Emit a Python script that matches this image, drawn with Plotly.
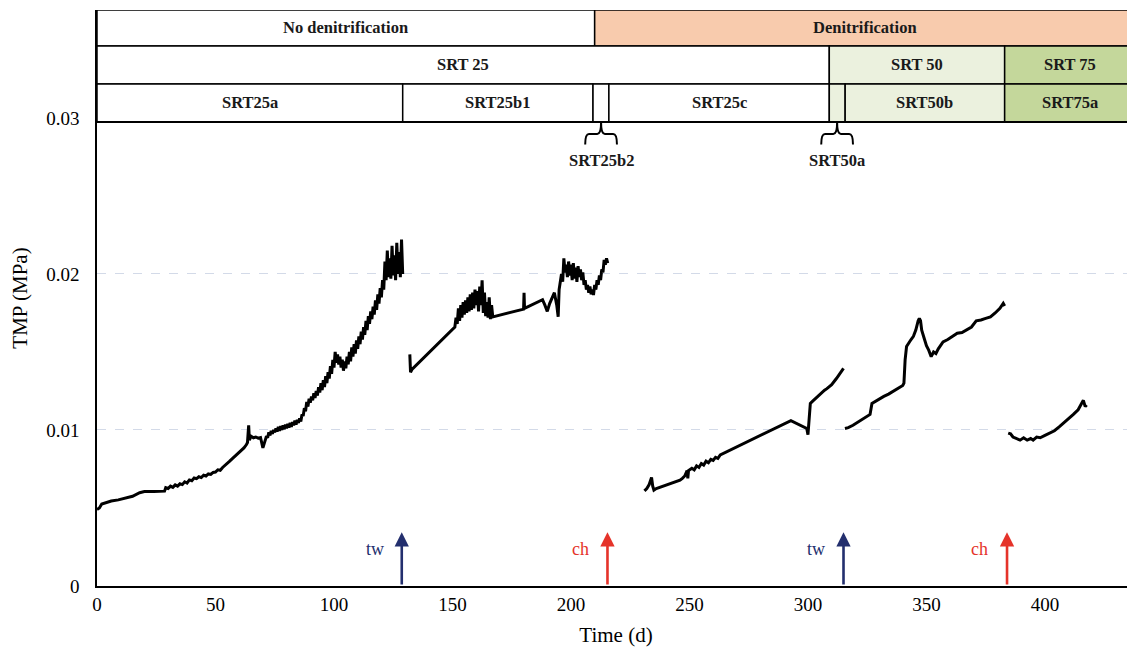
import plotly.graph_objects as go

# ---------------- data ----------------
t1 = [0, 1, 2, 4, 6, 9, 12, 15, 18, 20, 24, 28.5, 29, 30, 31, 32, 33, 34, 35, 36, 37, 38, 39, 40,
      41, 42, 43, 44, 45, 46, 47, 48, 49, 50, 51, 52, 53, 54, 55, 56, 57, 58, 59, 60, 61, 62, 63,
      63.5, 64, 64.3, 65, 66, 67, 68, 69, 70, 71, 71.5, 72, 72.5, 73, 73.5, 74, 74.5, 75, 75.5, 76,
      76.5, 77, 77.5, 78, 78.5, 79, 79.5, 80, 80.5, 81, 81.5, 82, 82.5, 83, 83.5, 84, 84.5, 85, 85.5,
      86, 86.5, 87, 87.5, 88, 88.5, 89, 89.5, 90, 90.5, 91, 91.5, 92, 92.5, 93, 93.5, 94, 94.5, 95,
      95.5, 96, 96.5, 97, 97.5, 98, 98.5, 99, 99.5, 100, 100.5, 101, 101.5, 102, 102.5, 103, 103.5,
      104, 104.5, 105, 105.5, 106, 106.5, 107, 107.5, 108, 108.5, 109, 109.5, 110, 110.5, 111, 111.5,
      112, 112.5, 113, 113.5, 114, 114.5, 115, 115.5, 116, 116.5, 117, 117.5, 118, 118.5, 119, 119.5,
      120, 120.5, 121, 121.5, 122, 122.5, 123, 123.5, 124, 124.5, 125, 125.5, 126, 126.5, 127, 127.5,
      128, 128.5, 129]
p1 = [0.00490, 0.00500, 0.00525, 0.00535, 0.00545, 0.00552, 0.00562, 0.00575, 0.00598, 0.00605,
      0.00606, 0.00608, 0.00630, 0.00625, 0.00640, 0.00632, 0.00648, 0.00640, 0.00655, 0.00650,
      0.00668, 0.00660, 0.00680, 0.00675, 0.00692, 0.00688, 0.00700, 0.00695, 0.00710, 0.00705,
      0.00718, 0.00715, 0.00728, 0.00730, 0.00745, 0.00742, 0.00760, 0.00772, 0.00785, 0.00800,
      0.00815, 0.00828, 0.00845, 0.00855, 0.00872, 0.00885, 0.00905, 0.00920, 0.01030, 0.00935,
      0.00960, 0.00950, 0.00955, 0.00948, 0.00952, 0.00885, 0.00935, 0.00960, 0.00950, 0.00985,
      0.00965, 0.00995, 0.00975, 0.01000, 0.00985, 0.01010, 0.00990, 0.01020, 0.00995, 0.01025,
      0.01000, 0.01030, 0.01005, 0.01035, 0.01010, 0.01040, 0.01015, 0.01045, 0.01020, 0.01050,
      0.01030, 0.01060, 0.01035, 0.01065, 0.01045, 0.01075, 0.01055, 0.01100, 0.01090, 0.01140,
      0.01120, 0.01180, 0.01150, 0.01200, 0.01175, 0.01215, 0.01190, 0.01235, 0.01205, 0.01250,
      0.01220, 0.01275, 0.01240, 0.01300, 0.01255, 0.01320, 0.01275, 0.01345, 0.01300, 0.01370,
      0.01330, 0.01410, 0.01360, 0.01450, 0.01400, 0.01500, 0.01430, 0.01485, 0.01420, 0.01470,
      0.01400, 0.01450, 0.01380, 0.01440, 0.01395, 0.01470, 0.01420, 0.01500, 0.01440, 0.01530,
      0.01470, 0.01550, 0.01490, 0.01575, 0.01520, 0.01600, 0.01550, 0.01630, 0.01580, 0.01660,
      0.01610, 0.01700, 0.01640, 0.01730, 0.01680, 0.01760, 0.01710, 0.01790, 0.01740, 0.01830,
      0.01770, 0.01870, 0.01810, 0.01910, 0.01850, 0.01960, 0.01900, 0.02080, 0.01960, 0.02150,
      0.01980, 0.02100, 0.01970, 0.02180, 0.01990, 0.02120, 0.01960, 0.02200, 0.02000, 0.02140,
      0.01980, 0.02220, 0.02000]

t2 = [132, 132.3, 133, 151, 151.5, 152, 152.5, 153, 153.5, 154, 154.5, 155, 155.5, 156, 156.5, 157,
      157.5, 158, 158.5, 159, 159.5, 160, 160.5, 161, 161.5, 162, 162.5, 163, 163.5, 164, 164.5, 165,
      165.5, 166, 166.5, 167, 180, 180.2, 180.4, 188, 189, 190, 191, 192, 193, 194, 194.6, 195, 195.5,
      196, 196.5, 197, 197.5, 198, 198.5, 199, 199.5, 200, 200.5, 201, 201.5, 202, 202.5, 203, 203.5,
      204, 204.5, 205, 205.5, 206, 206.5, 207, 207.5, 208, 208.5, 209, 209.5, 210, 210.5, 211, 211.5,
      212, 212.5, 213, 213.5, 214, 214.5, 215, 215.5]
p2 = [0.01485, 0.01370, 0.01390, 0.01660, 0.01720, 0.01680, 0.01780, 0.01700, 0.01800, 0.01720,
      0.01820, 0.01740, 0.01830, 0.01750, 0.01850, 0.01760, 0.01870, 0.01770, 0.01880, 0.01780,
      0.01900, 0.01800, 0.01890, 0.01760, 0.01920, 0.01800, 0.01960, 0.01750, 0.01880, 0.01730,
      0.01820, 0.01720, 0.01850, 0.01710, 0.01800, 0.01725, 0.01775, 0.01880, 0.01780, 0.01835,
      0.01800, 0.01760, 0.01810, 0.01850, 0.01880, 0.01800, 0.01726, 0.01900, 0.01960, 0.02000,
      0.01950, 0.02100, 0.02010, 0.02060, 0.01980, 0.02080, 0.01990, 0.02060, 0.01960, 0.02070,
      0.01970, 0.02040, 0.01950, 0.02050, 0.01980, 0.02030, 0.01960, 0.02010, 0.01930, 0.01960,
      0.01900, 0.01930, 0.01880, 0.01920, 0.01870, 0.01900, 0.01865, 0.01930, 0.01900, 0.01960,
      0.01930, 0.01990, 0.01960, 0.02030, 0.02010, 0.02090, 0.02060, 0.02100, 0.02070]

t3 = [231, 232, 233, 234, 234.5, 235, 236, 238, 240, 242, 244, 246, 247, 248, 249, 249.3, 249.6,
      251, 252, 253, 254, 255, 256, 257, 258, 259, 260, 261, 262, 263, 292.8, 299.5, 300, 300.5,
      301, 302, 303, 304, 305, 306, 307, 308, 310, 312, 314, 315]
p3 = [0.00610, 0.00625, 0.00650, 0.00695, 0.00640, 0.00615, 0.00625, 0.00635, 0.00645, 0.00655,
      0.00665, 0.00678, 0.00690, 0.00705, 0.00740, 0.00690, 0.00740, 0.00755, 0.00745, 0.00770,
      0.00760, 0.00785, 0.00775, 0.00800, 0.00790, 0.00812, 0.00805, 0.00825, 0.00818, 0.00840,
      0.01060, 0.01010, 0.00970, 0.01050, 0.01170, 0.01185, 0.01200, 0.01215, 0.01230, 0.01240,
      0.01255, 0.01265, 0.01290, 0.01330, 0.01375, 0.01395]

t4 = [315.6, 317, 319, 321, 323, 325, 326.2, 327, 328, 330, 332, 334, 336, 338, 340, 340.5, 341,
      341.6, 342.5, 343.5, 344.5, 345.5, 346.5, 347, 347.5, 348, 349, 350, 351, 352, 353, 354, 355,
      356, 357, 359, 361, 363, 365, 367, 369, 371, 373, 375, 377, 379, 381, 382.4, 383]
p4 = [0.01010, 0.01015, 0.01030, 0.01050, 0.01065, 0.01085, 0.01100, 0.01170, 0.01180, 0.01195,
      0.01215, 0.01230, 0.01250, 0.01265, 0.01285, 0.01300, 0.01450, 0.01535, 0.01560, 0.01580,
      0.01600, 0.01640, 0.01700, 0.01716, 0.01700, 0.01640, 0.01590, 0.01540, 0.01510, 0.01470,
      0.01500, 0.01490, 0.01520, 0.01540, 0.01565, 0.01580, 0.01600, 0.01620, 0.01625, 0.01645,
      0.01660, 0.01700, 0.01705, 0.01715, 0.01725, 0.01750, 0.01780, 0.01812, 0.01795]

t5 = [384.5, 385.5, 386.5, 388, 389.5, 391, 392.5, 394, 395, 396.5, 398, 400, 402, 404, 406, 408,
      410, 412, 414, 415.5, 416.2, 417, 417.6]
p5 = [0.00980, 0.00975, 0.00955, 0.00945, 0.00935, 0.00950, 0.00935, 0.00945, 0.00935, 0.00955,
      0.00950, 0.00965, 0.00980, 0.00995, 0.01020, 0.01045, 0.01070, 0.01100, 0.01130, 0.01165,
      0.01190, 0.01150, 0.01160]

segments = [(t1, p1), (t2, p2), (t3, p3), (t4, p4), (t5, p5)]

# phase bands: (start, end, label, fill)
band_top = [(0, 210, "No denitrification", "white"), (210, 438, "Denitrification", "#F8CBAD")]
band_mid = [(0, 309, "SRT 25", "white"), (309, 383, "SRT 50", "#EBF1DE"), (383, 438, "SRT 75", "#C4D79B")]
band_low = [(0, 129, "SRT25a", "white"), (129, 209.3, "SRT25b1", "white"), (209.3, 216, "", "white"),
            (216, 309, "SRT25c", "white"), (309, 315.7, "", "#EBF1DE"), (315.7, 383, "SRT50b", "#EBF1DE"),
            (383, 438, "SRT75a", "#C4D79B")]
braces = [(212.7, "SRT25b2"), (312.3, "SRT50a")]

events = [(128.6, "tw", "#232F6E"), (215.4, "ch", "#E5332A"), (315, "tw", "#232F6E"), (384, "ch", "#E5332A")]

x_ticks = [0, 50, 100, 150, 200, 250, 300, 350, 400]
y_ticks = [0, 0.01, 0.02, 0.03]
y_ticktext = ["0", "0.01", "0.02", "0.03"]

XMAX = 438
YMAX = 0.03692
FONT = "Liberation Serif, Times New Roman, serif"

fig = go.Figure()
for t, p in segments:
    fig.add_trace(go.Scatter(x=t, y=p, mode="lines", line=dict(color="black", width=3),
                             showlegend=False, hoverinfo="skip"))

shapes = []
annotations = []
rows = [(band_top, 0.03462, 0.03692), (band_mid, 0.03218, 0.03462), (band_low, 0.02974, 0.03218)]
for band, y0, y1 in rows:
    for x0, x1, label, fill in band:
        shapes.append(dict(type="rect", xref="x", yref="y", x0=x0, x1=x1, y0=y0, y1=y1,
                           fillcolor=fill, line=dict(color="black", width=1.5), layer="above"))
        if label:
            annotations.append(dict(x=(x0 + x1) / 2, y=(y0 + y1) / 2, xref="x", yref="y",
                                    text=f"<b>{label}</b>", showarrow=False,
                                    font=dict(family=FONT, size=16.5, color="#1a1a1a"),
                                    xanchor="center", yanchor="middle"))
# thicker bottom edge of the band block
shapes.append(dict(type="line", xref="x", yref="y", x0=0, x1=XMAX, y0=0.02974, y1=0.02974,
                   line=dict(color="black", width=2), layer="above"))

for xc, label in braces:
    half = 6.7
    s = 1.6
    yt, yh, ye = 0.02974, 0.02897, 0.02830
    path = (f"M {xc-half},{ye} Q {xc-half},{yh} {xc-half+s},{yh} L {xc-s},{yh} "
            f"Q {xc},{yh} {xc},{yt} Q {xc},{yh} {xc+s},{yh} L {xc+half-s},{yh} "
            f"Q {xc+half},{yh} {xc+half},{ye}")
    shapes.append(dict(type="path", xref="x", yref="y", path=path, line=dict(color="black", width=2)))
    annotations.append(dict(x=xc, y=0.02728, xref="x", yref="y", text=f"<b>{label}</b>", showarrow=False,
                            font=dict(family=FONT, size=16.5, color="#1a1a1a"), xanchor="center",
                            yanchor="middle"))

for xe, label, col in events:
    annotations.append(dict(x=xe, y=0.00345, ax=xe, ay=0.0, xref="x", yref="y", axref="x", ayref="y",
                            text="", showarrow=True, arrowhead=2, arrowsize=1.1, arrowwidth=2.6,
                            arrowcolor=col))
    annotations.append(dict(x=xe - 11.5, y=0.00240, xref="x", yref="y", text=label, showarrow=False,
                            font=dict(family=FONT, size=18, color=col), xanchor="center",
                            yanchor="middle"))

# the page body has an 8px margin; compensate so the plot area lands where the reference has it
fig.update_layout(
    width=1127, height=640,
    margin=dict(l=89, r=0, t=2, b=62),
    paper_bgcolor="white", plot_bgcolor="white",
    font=dict(family=FONT, size=19, color="black"),
    shapes=shapes, annotations=annotations,
    xaxis=dict(range=[0, XMAX], tickvals=x_ticks, showgrid=False, zeroline=False,
               showline=True, linecolor="black", linewidth=1.5, ticks="",
               tickfont=dict(family=FONT, size=19, color="black"),
               title=dict(text="Time (d)", font=dict(family=FONT, size=21, color="black"), standoff=14)),
    yaxis=dict(range=[0, YMAX], tickvals=y_ticks, ticktext=y_ticktext, showgrid=True,
               gridcolor="#D3DAE8", griddash="dash", gridwidth=1, zeroline=False,
               showline=True, linecolor="black", linewidth=1.5, ticks="", ticklabelstandoff=12,
               tickfont=dict(family=FONT, size=19, color="black"),
               title=dict(text="TMP (MPa)", font=dict(family=FONT, size=21, color="black"), standoff=16)),
)

fig.write_html("out.html")
